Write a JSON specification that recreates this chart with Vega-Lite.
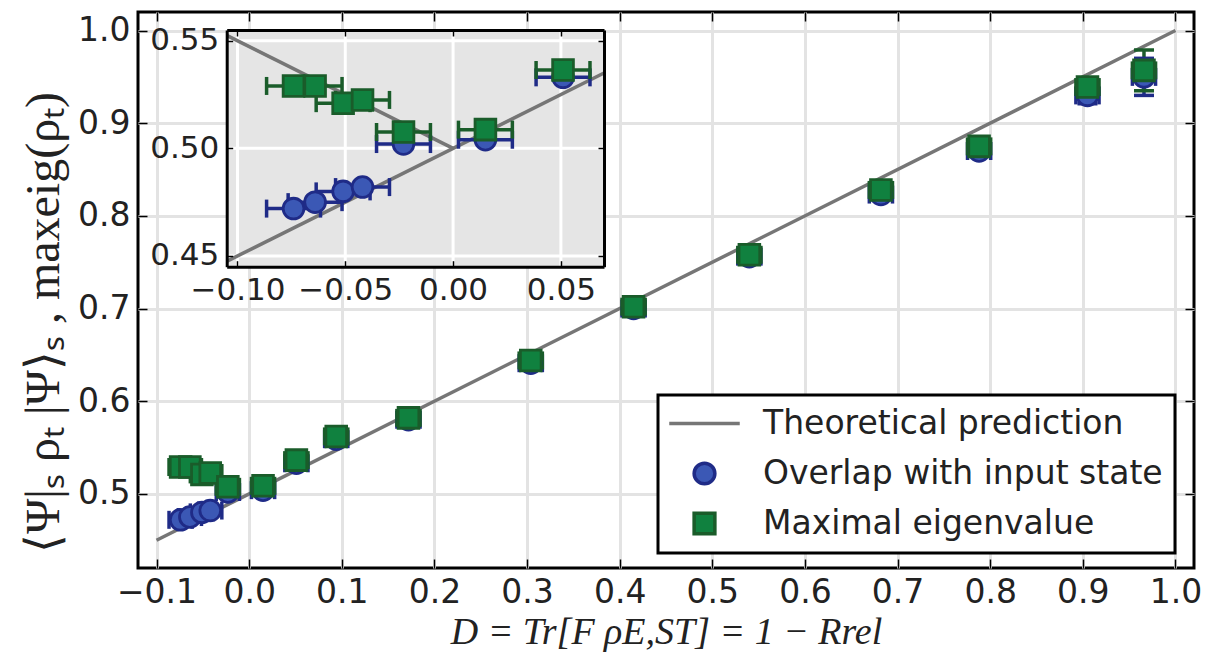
{
  "$schema": "https://vega.github.io/schema/vega-lite/v6.json",
  "width": 1056,
  "height": 556,
  "autosize": {"type": "none"},
  "padding": {"left": 138, "top": 12, "right": 25, "bottom": 96},
  "background": "white",
  "config": {
    "view": {"stroke": "black", "strokeWidth": 3},
    "axis": {
      "labelFont": "DejaVu Sans",
      "labelColor": "#222222",
      "titleFont": "Liberation Serif",
      "titleColor": "#222222",
      "titleFontWeight": "normal",
      "tickColor": "black",
      "tickWidth": 1.5,
      "domain": false,
      "grid": false,
      "labelFlush": false,
      "labelOverlap": false,
      "labelBound": false
    }
  },
  "datasets": {
    "pts": [
      {"D": -0.074, "Dlo": -0.0865, "Dhi": -0.0615, "v": 0.472, "vlo": 0.469, "vhi": 0.475, "s": "Overlap with input state"},
      {"D": -0.064, "Dlo": -0.0765, "Dhi": -0.0515, "v": 0.475, "vlo": 0.472, "vhi": 0.478, "s": "Overlap with input state"},
      {"D": -0.051, "Dlo": -0.0635, "Dhi": -0.0385, "v": 0.480, "vlo": 0.477, "vhi": 0.483, "s": "Overlap with input state"},
      {"D": -0.042, "Dlo": -0.0545, "Dhi": -0.0295, "v": 0.482, "vlo": 0.479, "vhi": 0.485, "s": "Overlap with input state"},
      {"D": -0.023, "Dlo": -0.0355, "Dhi": -0.0105, "v": 0.502, "vlo": 0.499, "vhi": 0.505, "s": "Overlap with input state"},
      {"D": 0.015, "Dlo": 0.0025, "Dhi": 0.0275, "v": 0.504, "vlo": 0.501, "vhi": 0.507, "s": "Overlap with input state"},
      {"D": 0.051, "Dlo": 0.0385, "Dhi": 0.0635, "v": 0.533, "vlo": 0.530, "vhi": 0.536, "s": "Overlap with input state"},
      {"D": 0.094, "Dlo": 0.0815, "Dhi": 0.1065, "v": 0.559, "vlo": 0.556, "vhi": 0.562, "s": "Overlap with input state"},
      {"D": 0.172, "Dlo": 0.1595, "Dhi": 0.1845, "v": 0.580, "vlo": 0.577, "vhi": 0.583, "s": "Overlap with input state"},
      {"D": 0.304, "Dlo": 0.2915, "Dhi": 0.3165, "v": 0.641, "vlo": 0.638, "vhi": 0.644, "s": "Overlap with input state"},
      {"D": 0.415, "Dlo": 0.4025, "Dhi": 0.4275, "v": 0.700, "vlo": 0.697, "vhi": 0.703, "s": "Overlap with input state"},
      {"D": 0.540, "Dlo": 0.5275, "Dhi": 0.5525, "v": 0.756, "vlo": 0.753, "vhi": 0.759, "s": "Overlap with input state"},
      {"D": 0.682, "Dlo": 0.6695, "Dhi": 0.6945, "v": 0.823, "vlo": 0.820, "vhi": 0.826, "s": "Overlap with input state"},
      {"D": 0.788, "Dlo": 0.7755, "Dhi": 0.8005, "v": 0.870, "vlo": 0.866, "vhi": 0.874, "s": "Overlap with input state"},
      {"D": 0.905, "Dlo": 0.8925, "Dhi": 0.9175, "v": 0.930, "vlo": 0.921, "vhi": 0.939, "s": "Overlap with input state"},
      {"D": 0.966, "Dlo": 0.9535, "Dhi": 0.9785, "v": 0.950, "vlo": 0.930, "vhi": 0.970, "s": "Overlap with input state"},
      {"D": -0.074, "Dlo": -0.0865, "Dhi": -0.0615, "v": 0.529, "vlo": 0.526, "vhi": 0.532, "s": "Maximal eigenvalue"},
      {"D": -0.064, "Dlo": -0.0765, "Dhi": -0.0515, "v": 0.529, "vlo": 0.526, "vhi": 0.532, "s": "Maximal eigenvalue"},
      {"D": -0.051, "Dlo": -0.0635, "Dhi": -0.0385, "v": 0.521, "vlo": 0.518, "vhi": 0.524, "s": "Maximal eigenvalue"},
      {"D": -0.042, "Dlo": -0.0545, "Dhi": -0.0295, "v": 0.5225, "vlo": 0.5195, "vhi": 0.5255, "s": "Maximal eigenvalue"},
      {"D": -0.023, "Dlo": -0.0355, "Dhi": -0.0105, "v": 0.5076, "vlo": 0.5046, "vhi": 0.5106, "s": "Maximal eigenvalue"},
      {"D": 0.015, "Dlo": 0.0025, "Dhi": 0.0275, "v": 0.5087, "vlo": 0.5057, "vhi": 0.5117, "s": "Maximal eigenvalue"},
      {"D": 0.051, "Dlo": 0.0385, "Dhi": 0.0635, "v": 0.5364, "vlo": 0.5334, "vhi": 0.5394, "s": "Maximal eigenvalue"},
      {"D": 0.094, "Dlo": 0.0815, "Dhi": 0.1065, "v": 0.562, "vlo": 0.559, "vhi": 0.565, "s": "Maximal eigenvalue"},
      {"D": 0.172, "Dlo": 0.1595, "Dhi": 0.1845, "v": 0.582, "vlo": 0.579, "vhi": 0.585, "s": "Maximal eigenvalue"},
      {"D": 0.304, "Dlo": 0.2915, "Dhi": 0.3165, "v": 0.644, "vlo": 0.641, "vhi": 0.647, "s": "Maximal eigenvalue"},
      {"D": 0.415, "Dlo": 0.4025, "Dhi": 0.4275, "v": 0.702, "vlo": 0.699, "vhi": 0.705, "s": "Maximal eigenvalue"},
      {"D": 0.540, "Dlo": 0.5275, "Dhi": 0.5525, "v": 0.758, "vlo": 0.755, "vhi": 0.761, "s": "Maximal eigenvalue"},
      {"D": 0.682, "Dlo": 0.6695, "Dhi": 0.6945, "v": 0.828, "vlo": 0.825, "vhi": 0.831, "s": "Maximal eigenvalue"},
      {"D": 0.788, "Dlo": 0.7755, "Dhi": 0.8005, "v": 0.875, "vlo": 0.871, "vhi": 0.879, "s": "Maximal eigenvalue"},
      {"D": 0.905, "Dlo": 0.8925, "Dhi": 0.9175, "v": 0.939, "vlo": 0.931, "vhi": 0.947, "s": "Maximal eigenvalue"},
      {"D": 0.966, "Dlo": 0.9535, "Dhi": 0.9785, "v": 0.957, "vlo": 0.935, "vhi": 0.979, "s": "Maximal eigenvalue"}
    ],
    "theory": [
      {"D": -0.1, "v": 0.45, "s": "Theoretical prediction"},
      {"D": 1.0, "v": 1.0, "s": "Theoretical prediction"}
    ],
    "insetTheory": [
      {"D": -0.105, "v": 0.4475, "seg": "a", "s": "Theoretical prediction"},
      {"D": 0.07, "v": 0.535, "seg": "a", "s": "Theoretical prediction"},
      {"D": -0.105, "v": 0.5525, "seg": "b", "s": "Theoretical prediction"},
      {"D": 0.0, "v": 0.5, "seg": "b", "s": "Theoretical prediction"}
    ],
    "insetGridX": [{"t": -0.1}, {"t": -0.05}, {"t": 0.0}, {"t": 0.05}],
    "insetGridY": [{"t": 0.45}, {"t": 0.5}, {"t": 0.55}]
  },
  "layer": [
    {
      "layer": [
        {
          "data": {"name": "theory"},
          "mark": {"type": "line", "strokeWidth": 3.5},
          "encoding": {
            "x": {
              "field": "D", "type": "quantitative",
              "scale": {"domain": [-0.12, 1.02], "nice": false, "zero": false},
              "axis": {
                "orient": "bottom",
                "values": [-0.1, 0.0, 0.1, 0.2, 0.3, 0.4, 0.5, 0.6, 0.7, 0.8, 0.9, 1.0],
                "format": ".1f",
                "labelFontSize": 33,
                "tickSize": -9,
                "labelPadding": 17,
                "grid": true,
                "gridColor": "#e3e3e3",
                "gridWidth": 3,
                "title": "D = Tr[F ρE,ST] = 1 − Rrel",
                "titleFontSize": 38,
                "titleFontStyle": "italic",
                "titleX": 528,
                "titleY": 64,
                "titleAlign": "center",
                "titleBaseline": "middle"
              }
            },
            "y": {
              "field": "v", "type": "quantitative",
              "scale": {"domain": [0.42, 1.02], "nice": false, "zero": false},
              "axis": {
                "orient": "left",
                "values": [0.5, 0.6, 0.7, 0.8, 0.9, 1.0],
                "format": ".1f",
                "labelFontSize": 33,
                "tickSize": -9,
                "labelPadding": 17,
                "grid": true,
                "gridColor": "#e3e3e3",
                "gridWidth": 3,
                "title": "⟨Ψ|ₛ ρₜ |Ψ⟩ₛ ,    maxeig(ρₜ)",
                "titleFontSize": 48,
                "titleX": -94,
                "titleY": 310,
                "titleAngle": -90,
                "titleAlign": "center",
                "titleBaseline": "middle"
              }
            },
            "stroke": {
              "field": "s", "type": "nominal",
              "scale": {"domain": ["Theoretical prediction", "Overlap with input state", "Maximal eigenvalue"], "range": ["#767676", "#1f2b87", "#1a5c2a"]},
              "legend": {
                "title": null, "orient": "none", "legendX": 520, "legendY": 383,
                "symbolSize": 430, "symbolStrokeWidth": 3.5, "symbolOffset": 18, "labelOffset": 42,
                "labelFont": "DejaVu Sans", "labelFontSize": 33, "labelColor": "#222222", "labelLimit": 700,
                "rowPadding": 15, "padding": 12, "strokeColor": "black", "fillColor": "white", "symbolOpacity": 1,
                "encode": {"legend": {"update": {"strokeWidth": {"value": 3}}}}
              }
            }
          }
        },
        {
          "data": {"name": "pts"},
          "mark": {"type": "rule", "strokeWidth": 3.5},
          "encoding": {
            "x": {"field": "D", "type": "quantitative", "axis": {"orient": "top", "values": [-0.1, 0.0, 0.1, 0.2, 0.3, 0.4, 0.5, 0.6, 0.7, 0.8, 0.9, 1.0], "labels": false, "tickSize": -9, "title": null, "grid": false}},
            "y": {"field": "vlo", "type": "quantitative", "axis": {"orient": "right", "values": [0.5, 0.6, 0.7, 0.8, 0.9, 1.0], "labels": false, "tickSize": -9, "title": null, "grid": false}},
            "y2": {"field": "vhi"},
            "stroke": {"field": "s", "type": "nominal", "legend": null}
          }
        },
        {
          "data": {"name": "pts"},
          "mark": {"type": "rule", "strokeWidth": 3.5},
          "encoding": {
            "x": {"field": "Dlo", "type": "quantitative", "axis": null},
            "x2": {"field": "Dhi"},
            "y": {"field": "v", "type": "quantitative", "axis": null},
            "stroke": {"field": "s", "type": "nominal", "legend": null}
          }
        },
        {
          "data": {"name": "pts"},
          "mark": {"type": "point", "shape": "stroke", "angle": 90, "size": 324, "strokeWidth": 3.5, "filled": false, "opacity": 1},
          "encoding": {
            "x": {"field": "Dlo", "type": "quantitative", "axis": null},
            "y": {"field": "v", "type": "quantitative", "axis": null},
            "stroke": {"field": "s", "type": "nominal", "legend": null}
          }
        },
        {
          "data": {"name": "pts"},
          "mark": {"type": "point", "shape": "stroke", "angle": 90, "size": 324, "strokeWidth": 3.5, "filled": false, "opacity": 1},
          "encoding": {
            "x": {"field": "Dhi", "type": "quantitative", "axis": null},
            "y": {"field": "v", "type": "quantitative", "axis": null},
            "stroke": {"field": "s", "type": "nominal", "legend": null}
          }
        },
        {
          "data": {"name": "pts"},
          "mark": {"type": "point", "shape": "stroke", "size": 400, "strokeWidth": 3.5, "filled": false, "opacity": 1},
          "encoding": {
            "x": {"field": "D", "type": "quantitative", "axis": null},
            "y": {"field": "vlo", "type": "quantitative", "axis": null},
            "stroke": {"field": "s", "type": "nominal", "legend": null}
          }
        },
        {
          "data": {"name": "pts"},
          "mark": {"type": "point", "shape": "stroke", "size": 400, "strokeWidth": 3.5, "filled": false, "opacity": 1},
          "encoding": {
            "x": {"field": "D", "type": "quantitative", "axis": null},
            "y": {"field": "vhi", "type": "quantitative", "axis": null},
            "stroke": {"field": "s", "type": "nominal", "legend": null}
          }
        },
        {
          "data": {"name": "pts"},
          "mark": {"type": "point", "filled": true, "opacity": 1, "size": 430, "strokeWidth": 2.8},
          "encoding": {
            "x": {"field": "D", "type": "quantitative", "axis": null},
            "y": {"field": "v", "type": "quantitative", "axis": null},
            "fill": {
              "field": "s", "type": "nominal",
              "scale": {"domain": ["Theoretical prediction", "Overlap with input state", "Maximal eigenvalue"], "range": ["#767676", "#3b58b5", "#10813f"]}
            },
            "stroke": {"field": "s", "type": "nominal"},
            "shape": {
              "field": "s", "type": "nominal",
              "scale": {"domain": ["Theoretical prediction", "Overlap with input state", "Maximal eigenvalue"], "range": ["M-3.4,0L3.4,0", "circle", "square"]}
            }
          }
        }
      ],
      "resolve": {"axis": {"x": "independent", "y": "independent"}}
    },
    {
      "layer": [
        {
          "data": {"values": [{}]},
          "mark": {"type": "rect", "fill": "#e5e5e5"},
          "encoding": {
            "x": {
              "datum": -0.105, "type": "quantitative",
              "scale": {"domain": [-0.105, 0.07], "range": [88.7, 466], "nice": false, "zero": false},
              "axis": {"orient": "bottom", "offset": -301.3, "values": [-0.1, -0.05, 0.0, 0.05], "format": ".2f", "labelFontSize": 31, "tickSize": -6, "labelPadding": 15, "domain": true, "domainColor": "black", "domainWidth": 3, "title": null, "grid": false, "zindex": 2}
            },
            "x2": {"datum": 0.07},
            "y": {
              "datum": 0.445, "type": "quantitative",
              "scale": {"domain": [0.445, 0.555], "range": [254.7, 18], "nice": false, "zero": false},
              "axis": {"orient": "left", "offset": -88.7, "values": [0.45, 0.5, 0.55], "format": ".2f", "labelFontSize": 31, "tickSize": -6, "labelPadding": 14, "domain": true, "domainColor": "black", "domainWidth": 3, "title": null, "grid": false, "zindex": 2}
            },
            "y2": {"datum": 0.555}
          }
        },
        {
          "data": {"name": "insetGridX"},
          "mark": {"type": "rule", "stroke": "white", "strokeWidth": 3},
          "encoding": {
            "x": {"field": "t", "type": "quantitative", "axis": {"orient": "top", "offset": -18, "values": [-0.1, -0.05, 0.0, 0.05], "labels": false, "tickSize": -6, "domain": true, "domainColor": "black", "domainWidth": 3, "title": null, "grid": false, "zindex": 2}},
            "y": {"datum": 0.445, "type": "quantitative", "axis": {"orient": "right", "offset": -590, "values": [0.45, 0.5, 0.55], "labels": false, "tickSize": -6, "domain": true, "domainColor": "black", "domainWidth": 3, "title": null, "grid": false, "zindex": 2}},
            "y2": {"datum": 0.555}
          }
        },
        {
          "data": {"name": "insetGridY"},
          "mark": {"type": "rule", "stroke": "white", "strokeWidth": 3},
          "encoding": {
            "y": {"field": "t", "type": "quantitative", "axis": null},
            "x": {"datum": -0.105, "type": "quantitative", "axis": null},
            "x2": {"datum": 0.07}
          }
        },
        {
          "data": {"name": "insetTheory"},
          "mark": {"type": "line", "strokeWidth": 3.5},
          "encoding": {
            "x": {"field": "D", "type": "quantitative", "axis": null},
            "y": {"field": "v", "type": "quantitative", "axis": null},
            "detail": {"field": "seg", "type": "nominal"},
            "stroke": {"field": "s", "type": "nominal", "legend": null}
          }
        },
        {
          "data": {"name": "pts"},
          "transform": [{"filter": "datum.D < 0.07"}],
          "mark": {"type": "rule", "strokeWidth": 3.5},
          "encoding": {
            "x": {"field": "Dlo", "type": "quantitative", "axis": null},
            "x2": {"field": "Dhi"},
            "y": {"field": "v", "type": "quantitative", "axis": null},
            "stroke": {"field": "s", "type": "nominal", "legend": null}
          }
        },
        {
          "data": {"name": "pts"},
          "transform": [{"filter": "datum.D < 0.07"}],
          "mark": {"type": "point", "shape": "stroke", "angle": 90, "size": 324, "strokeWidth": 3.5, "filled": false, "opacity": 1},
          "encoding": {
            "x": {"field": "Dlo", "type": "quantitative", "axis": null},
            "y": {"field": "v", "type": "quantitative", "axis": null},
            "stroke": {"field": "s", "type": "nominal", "legend": null}
          }
        },
        {
          "data": {"name": "pts"},
          "transform": [{"filter": "datum.D < 0.07"}],
          "mark": {"type": "point", "shape": "stroke", "angle": 90, "size": 324, "strokeWidth": 3.5, "filled": false, "opacity": 1},
          "encoding": {
            "x": {"field": "Dhi", "type": "quantitative", "axis": null},
            "y": {"field": "v", "type": "quantitative", "axis": null},
            "stroke": {"field": "s", "type": "nominal", "legend": null}
          }
        },
        {
          "data": {"name": "pts"},
          "transform": [{"filter": "datum.D < 0.07"}],
          "mark": {"type": "point", "filled": true, "opacity": 1, "size": 430, "strokeWidth": 2.8},
          "encoding": {
            "x": {"field": "D", "type": "quantitative", "axis": null},
            "y": {"field": "v", "type": "quantitative", "axis": null},
            "fill": {"field": "s", "type": "nominal", "legend": null},
            "stroke": {"field": "s", "type": "nominal", "legend": null},
            "shape": {"field": "s", "type": "nominal", "legend": null}
          }
        }
      ],
      "resolve": {"axis": {"x": "independent", "y": "independent"}}
    }
  ],
  "resolve": {
    "scale": {"x": "independent", "y": "independent"},
    "axis": {"x": "independent", "y": "independent"}
  }
}
